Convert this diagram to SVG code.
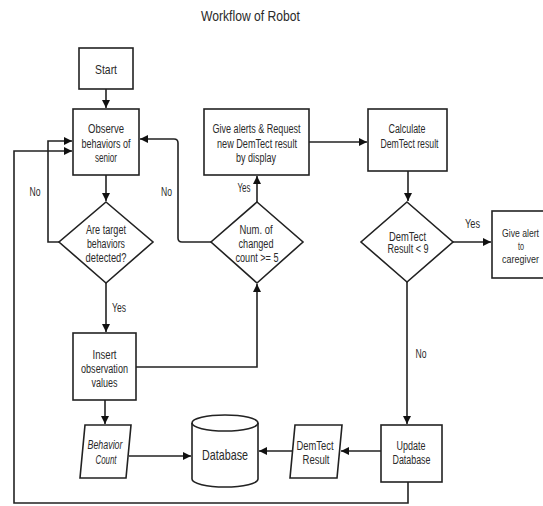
<svg xmlns="http://www.w3.org/2000/svg" width="543" height="506" viewBox="0 0 543 506">
<style>
.b{fill:#fff;stroke:#222;stroke-width:1.6}
.c{fill:none;stroke:#222;stroke-width:1.6}
.t{font-family:"Liberation Sans",Arial,sans-serif;font-size:12px;fill:#2a2a2a;text-anchor:middle}
.db{font-size:15px}
.ti{font-size:15px}
.it{font-style:italic}
.sm{font-size:10.5px}
</style>
<defs>
<marker id="arr" viewBox="0 0 10 10" refX="10" refY="5" markerWidth="8" markerHeight="8" markerUnits="userSpaceOnUse" orient="auto"><path d="M0,0 L10,5 L0,10 z" fill="#111"/></marker>
</defs>
<rect width="543" height="506" fill="#fff"/>
<text class="t ti" x="250.5" y="21" textLength="99" lengthAdjust="spacingAndGlyphs">Workflow of Robot</text>

<g id="connectors" class="c">
<path d="M106,89 V108" marker-end="url(#arr)"/>
<path d="M106,175 V201" marker-end="url(#arr)"/>
<path d="M106,283 V332" marker-end="url(#arr)"/>
<path d="M59,242 H48 V141 H72" marker-end="url(#arr)"/>
<path d="M105,400 V424" marker-end="url(#arr)"/>
<path d="M136,367 H257 V284" marker-end="url(#arr)"/>
<path d="M257,202 V176" marker-end="url(#arr)"/>
<path d="M211,242 H182 Q178,242 178,238 V143 Q178,139 174,139 H140" marker-end="url(#arr)"/>
<path d="M309,142 H367" marker-end="url(#arr)"/>
<path d="M408,171 V201" marker-end="url(#arr)"/>
<path d="M453,242 H491" marker-end="url(#arr)"/>
<path d="M407,282 V424" marker-end="url(#arr)"/>
<path d="M381,451 H341" marker-end="url(#arr)"/>
<path d="M292.5,451 H259" marker-end="url(#arr)"/>
<path d="M129,456 H191" marker-end="url(#arr)"/>
<path d="M408,482 V503 H14 V151 H72" marker-end="url(#arr)"/>
</g>
<g id="edge-labels">
<text class="t" x="35" y="196" textLength="11" lengthAdjust="spacingAndGlyphs">No</text>
<text class="t" x="166.5" y="196" textLength="11" lengthAdjust="spacingAndGlyphs">No</text>
<text class="t" x="244" y="192" textLength="13" lengthAdjust="spacingAndGlyphs">Yes</text>
<text class="t" x="119" y="312" textLength="14" lengthAdjust="spacingAndGlyphs">Yes</text>
<text class="t" x="472.5" y="228" textLength="15" lengthAdjust="spacingAndGlyphs">Yes</text>
<text class="t" x="421" y="358" textLength="11" lengthAdjust="spacingAndGlyphs">No</text>
</g>

<g id="start">
<rect class="b" x="79" y="48" width="54" height="41"/>
<text class="t" x="106" y="73.5" style="font-size:13.5px" textLength="22" lengthAdjust="spacingAndGlyphs">Start</text>
</g>
<g id="observe">
<rect class="b" x="73" y="109" width="66" height="66"/>
<text class="t" x="106" y="133" textLength="36" lengthAdjust="spacingAndGlyphs">Observe</text>
<text class="t" x="106" y="147.5" textLength="49" lengthAdjust="spacingAndGlyphs">behaviors of</text>
<text class="t" x="106" y="162" textLength="22" lengthAdjust="spacingAndGlyphs">senior</text>
</g>
<g id="detected">
<polygon class="b" points="106,202 153,242 106,283 59,242"/>
<text class="t" x="106" y="233.5" textLength="40" lengthAdjust="spacingAndGlyphs">Are target</text>
<text class="t" x="106" y="248" textLength="38" lengthAdjust="spacingAndGlyphs">behaviors</text>
<text class="t" x="106" y="262" textLength="41" lengthAdjust="spacingAndGlyphs">detected?</text>
</g>
<g id="insert">
<rect class="b" x="73" y="333" width="63" height="67"/>
<text class="t" x="104.5" y="358.5" textLength="24" lengthAdjust="spacingAndGlyphs">Insert</text>
<text class="t" x="104.5" y="372.5" textLength="47" lengthAdjust="spacingAndGlyphs">observation</text>
<text class="t" x="104.5" y="386.5" textLength="26" lengthAdjust="spacingAndGlyphs">values</text>
</g>
<g id="behavior-count">
<polygon class="b" points="85,425 131,425 126,478 80,478"/>
<text class="t it" x="105" y="448.5" textLength="35" lengthAdjust="spacingAndGlyphs">Behavior</text>
<text class="t it" x="106" y="463.5" textLength="21" lengthAdjust="spacingAndGlyphs">Count</text>
</g>
<g id="num-changed">
<polygon class="b" points="257,202 303,242 257,283 211,242"/>
<text class="t" x="256" y="233.5" textLength="33" lengthAdjust="spacingAndGlyphs">Num. of</text>
<text class="t" x="256" y="248" textLength="35" lengthAdjust="spacingAndGlyphs">changed</text>
<text class="t" x="257" y="262" textLength="43" lengthAdjust="spacingAndGlyphs">count &gt;= 5</text>
</g>
<g id="give-alerts">
<rect class="b" x="204" y="109" width="105" height="66"/>
<text class="t" x="256.5" y="133" textLength="88" lengthAdjust="spacingAndGlyphs">Give alerts &amp; Request</text>
<text class="t" x="257" y="147.5" textLength="80" lengthAdjust="spacingAndGlyphs">new DemTect result</text>
<text class="t" x="256" y="162" textLength="40" lengthAdjust="spacingAndGlyphs">by display</text>
</g>
<g id="calculate">
<rect class="b" x="368" y="109" width="79" height="62"/>
<text class="t" x="407" y="133" textLength="37" lengthAdjust="spacingAndGlyphs">Calculate</text>
<text class="t" x="409.5" y="147.5" textLength="58" lengthAdjust="spacingAndGlyphs">DemTect result</text>
</g>
<g id="demtect-check">
<polygon class="b" points="407,202 453,242 407,282 361,242"/>
<text class="t" x="407.5" y="240.5" textLength="37" lengthAdjust="spacingAndGlyphs">DemTect</text>
<text class="t" x="408" y="253" textLength="41" lengthAdjust="spacingAndGlyphs">Result &lt; 9</text>
</g>
<g id="alert-caregiver">
<rect class="b" x="492" y="211" width="62" height="67"/>
<text class="t sm" x="520.5" y="236.5" textLength="37" lengthAdjust="spacingAndGlyphs">Give alert</text>
<text class="t sm" x="521" y="250" textLength="6" lengthAdjust="spacingAndGlyphs">to</text>
<text class="t sm" x="520.5" y="263" textLength="37" lengthAdjust="spacingAndGlyphs">caregiver</text>
</g>
<g id="update-db">
<rect class="b" x="381" y="425" width="61" height="57"/>
<text class="t" x="411" y="449.5" textLength="29" lengthAdjust="spacingAndGlyphs">Update</text>
<text class="t" x="411.5" y="463.5" textLength="38" lengthAdjust="spacingAndGlyphs">Database</text>
</g>
<g id="demtect-result">
<polygon class="b" points="295,425 342,425 337,478 290,478"/>
<text class="t" x="315" y="449.5" textLength="37" lengthAdjust="spacingAndGlyphs">DemTect</text>
<text class="t" x="316" y="463.5" textLength="27" lengthAdjust="spacingAndGlyphs">Result</text>
</g>
<g id="database">
<path class="b" d="M192,423 V479 A33,8 0 0,0 258,479 V423 A33,8 0 0,0 192,423 Z"/>
<path class="c" d="M192,423 A33,8 0 0,0 258,423"/>
<text class="t db" x="225" y="460" textLength="46" lengthAdjust="spacingAndGlyphs">Database</text>
</g>
</svg>
